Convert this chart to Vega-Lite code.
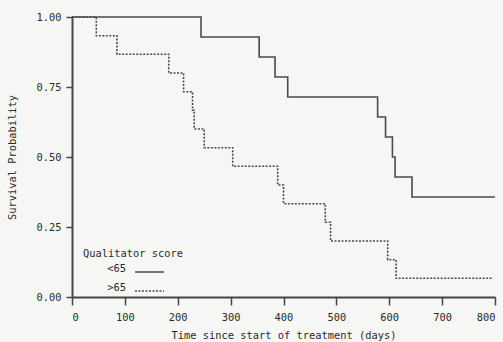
{
  "$schema": "https://vega.github.io/schema/vega-lite/v6.json",
  "width": 423,
  "height": 280,
  "autosize": {"type": "none"},
  "padding": {"left": 72, "top": 17, "right": 8, "bottom": 45},
  "background": "#f6f6f4",
  "data": {
    "values": [
      {"group": "<65", "time": 0, "surv": 1},
      {"group": "<65", "time": 244, "surv": 0.9286},
      {"group": "<65", "time": 354, "surv": 0.8571},
      {"group": "<65", "time": 384, "surv": 0.7857},
      {"group": "<65", "time": 408, "surv": 0.7143},
      {"group": "<65", "time": 578, "surv": 0.6429},
      {"group": "<65", "time": 593, "surv": 0.5714},
      {"group": "<65", "time": 606, "surv": 0.5},
      {"group": "<65", "time": 611, "surv": 0.4286},
      {"group": "<65", "time": 643, "surv": 0.3571},
      {"group": "<65", "time": 800, "surv": 0.3571},
      {"group": ">65", "time": 0, "surv": 1},
      {"group": ">65", "time": 46, "surv": 0.9333},
      {"group": ">65", "time": 85, "surv": 0.8667},
      {"group": ">65", "time": 183, "surv": 0.8},
      {"group": ">65", "time": 211, "surv": 0.7333},
      {"group": ">65", "time": 228, "surv": 0.6667},
      {"group": ">65", "time": 231, "surv": 0.6},
      {"group": ">65", "time": 250, "surv": 0.5333},
      {"group": ">65", "time": 304, "surv": 0.4667},
      {"group": ">65", "time": 389, "surv": 0.4},
      {"group": ">65", "time": 400, "surv": 0.3333},
      {"group": ">65", "time": 479, "surv": 0.2667},
      {"group": ">65", "time": 489, "surv": 0.2},
      {"group": ">65", "time": 597, "surv": 0.1333},
      {"group": ">65", "time": 613, "surv": 0.0667},
      {"group": ">65", "time": 795, "surv": 0.0667}
    ]
  },
  "mark": {"type": "line", "interpolate": "step-after", "strokeWidth": 1.6, "color": "#4a4a4a", "clip": false},
  "encoding": {
    "x": {
      "field": "time",
      "type": "quantitative",
      "scale": {"domain": [0, 800], "nice": false, "zero": false},
      "axis": {
        "title": "Time since start of treatment (days)",
        "values": [0, 100, 200, 300, 400, 500, 600, 700, 800],
        "grid": false,
        "tickSize": 8,
        "labelPadding": 7,
        "titlePadding": 8
      }
    },
    "y": {
      "field": "surv",
      "type": "quantitative",
      "scale": {"domain": [0, 1], "nice": false},
      "axis": {
        "title": "Survival Probability",
        "values": [0, 0.25, 0.5, 0.75, 1],
        "format": ".2f",
        "grid": false,
        "tickSize": 6,
        "labelPadding": 5,
        "titlePadding": 18
      }
    },
    "strokeDash": {
      "field": "group",
      "type": "nominal",
      "scale": {"domain": ["<65", ">65"], "range": [[1, 0], [2, 1.5]]},
      "legend": {
        "title": "Qualitator score",
        "orient": "none",
        "legendX": 11,
        "legendY": 232,
        "padding": 0,
        "symbolType": "stroke",
        "symbolSize": 841,
        "symbolStrokeWidth": 1.5,
        "symbolStrokeColor": "#4a4a4a",
        "symbolOffset": 51,
        "labelAlign": "right",
        "labelBaseline": "alphabetic",
        "labelOffset": -39,
        "rowPadding": 0,
        "titlePadding": -3
      }
    }
  },
  "config": {
    "view": {"stroke": null},
    "font": "DejaVu Sans Mono",
    "axis": {
      "domainColor": "#444444",
      "domainWidth": 2,
      "tickColor": "#444444",
      "tickWidth": 1.5,
      "labelFont": "DejaVu Sans Mono",
      "labelFontSize": 10.4,
      "labelColor": "#2a2a2a",
      "titleFont": "DejaVu Sans Mono",
      "titleFontSize": 10.4,
      "titleFontWeight": "normal",
      "titleColor": "#2a2a2a"
    },
    "legend": {
      "labelFont": "DejaVu Sans Mono",
      "labelFontSize": 10.4,
      "labelColor": "#2a2a2a",
      "titleFont": "DejaVu Sans Mono",
      "titleFontSize": 10.4,
      "titleFontWeight": "normal",
      "titleColor": "#2a2a2a"
    }
  }
}
